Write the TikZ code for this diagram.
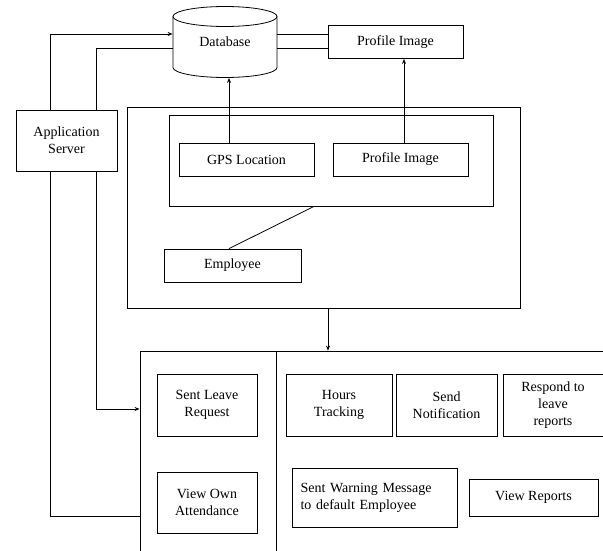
\documentclass[tikz,border=0pt]{standalone}
\usepackage{fontspec}
\setmainfont{Liberation Serif}
\usetikzlibrary{arrows.meta}

\begin{document}
\begin{tikzpicture}[x=1pt, y=-1pt, line width=0.8pt,
  box/.style={draw, align=center, inner sep=1pt, font=\fontsize{14}{17}\selectfont},
  frame/.style={draw, inner sep=0pt},
  arr/.style={-{Stealth[length=5pt, width=4pt]}}]
\useasboundingbox (0,0) rectangle (603,551);
\clip (0,0) rectangle (603,551);

% database cylinder
\draw (225,16.5) ellipse [x radius=52, y radius=10];
\draw (173,16.5) -- (173,67.5) arc [start angle=180, end angle=0, x radius=52, y radius=10] -- (277,16.5);
\node[inner sep=0pt, minimum width=104pt, minimum height=71pt, font=\fontsize{14}{17}\selectfont] (db) at (225,42) {\raisebox{-4pt}{Database}};

\node[box, minimum width=135pt, minimum height=33pt] (dbimg) at (395.5,42) {Profile Image};
\node[box, minimum width=101pt, minimum height=61pt] (server) at (66.5,140.5) {Application\\Server};

% mobile side
\node[frame, minimum width=393pt, minimum height=201pt] (outer) at (323.5,207.5) {};
\node[frame, minimum width=324pt, minimum height=91pt] (inner) at (331,160.5) {};
\node[box, minimum width=135pt, minimum height=33pt] (gps) at (246.5,159.5) {GPS Location};
\node[box, minimum width=135pt, minimum height=33pt] (profile) at (400.5,159.5) {Profile Image};
\node[box, minimum width=137pt, minimum height=33pt] (employee) at (232.5,265.5) {Employee};

% web side
\node[frame, minimum width=136pt, minimum height=219pt] (panelL) at (208,460.5) {};
\node[frame, minimum width=364pt, minimum height=219pt] (panelR) at (458,460.5) {};
\node[box, minimum width=100pt, minimum height=62pt] (leave) at (207,405) {Sent Leave\\Request};
\node[box, minimum width=100pt, minimum height=61pt] (attend) at (207,502.5) {View Own\\Attendance};
\node[box, minimum width=106pt, minimum height=62pt] (hours) at (339,405) {Hours\\Tracking};
\node[box, minimum width=101pt, minimum height=62pt] (notify) at (446.5,405) {Send\\Notification};
\node[box, minimum width=100pt, minimum height=62pt] (respond) at (553,405) {Respond to\\leave\\reports};
\node[box, minimum width=165pt, minimum height=59pt, align=left, text width=148pt] (warn) at (374.5,497.5) {Sent Warning Message\\to default Employee};
\node[box, minimum width=129pt, minimum height=37pt] (reports) at (533.5,497.5) {View Reports};

% connectors
\draw[arr] ([xshift=-16.5pt]server.north) |- ([yshift=8pt]db.west);
\draw ([xshift=29.5pt]server.north) |- ([yshift=-6pt]db.west);
\draw ([yshift=8pt]db.east) -- ([yshift=8pt]dbimg.west);
\draw ([yshift=-6pt]db.east) -- ([yshift=-6pt]dbimg.west);
\draw[arr] ([xshift=-17.5pt]gps.north) -- ([xshift=-17.5pt]gps.north |- db.south);
\draw[arr] ([xshift=3.5pt]profile.north) -- ([xshift=3.5pt]profile.north |- dbimg.south);
\draw ([xshift=-3.5pt]employee.north) -- ([xshift=-17pt]inner.south);
\draw[arr] ([xshift=4.5pt]outer.south) -- ([xshift=4.5pt]outer.south |- panelR.north);
\draw[arr] ([xshift=29.5pt]server.south) |- ([yshift=-4pt]panelL.west |- leave.west);
\draw ([xshift=-16.5pt]server.south) |- ([yshift=-13.5pt]panelL.west |- attend.west);
\end{tikzpicture}
\end{document}
